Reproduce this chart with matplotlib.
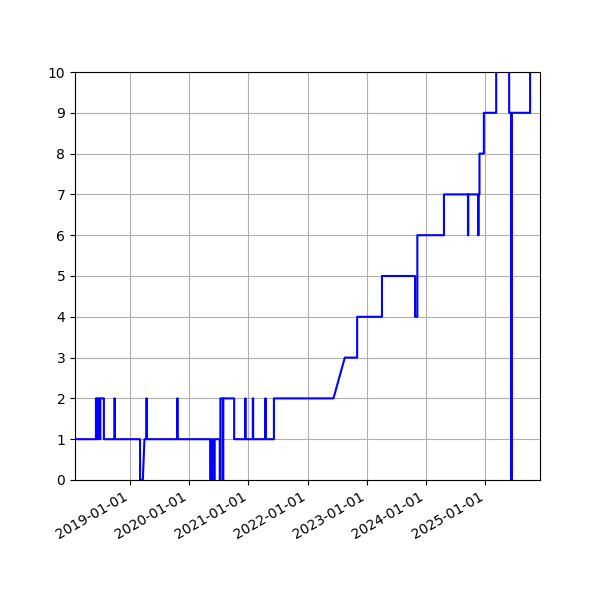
import matplotlib
matplotlib.use("Agg")
import matplotlib.pyplot as plt
import matplotlib.dates as mdates
import pandas as pd

dates = ["2018-01-28","2018-06-06","2018-06-06","2018-06-12","2018-06-12","2018-06-18","2018-06-18",
         "2018-06-26","2018-06-26","2018-07-03","2018-07-03","2018-07-25","2018-07-25",
         "2018-09-28","2018-09-28","2018-10-01","2018-10-01",
         "2019-03-05","2019-03-05","2019-03-22","2019-04-01",
         "2019-04-13","2019-04-13","2019-04-16","2019-04-16",
         "2019-10-20","2019-10-20","2019-10-22","2019-10-22",
         "2020-05-10","2020-05-10","2020-05-20","2020-05-20","2020-05-28","2020-05-28","2020-06-07","2020-06-07",
         "2020-07-08","2020-07-08","2020-07-12","2020-07-12","2020-07-27","2020-07-27","2020-07-30","2020-07-30",
         "2020-10-05","2020-10-05",
         "2020-12-12","2020-12-12","2020-12-14","2020-12-14",
         "2021-01-28","2021-01-28","2021-01-30","2021-01-30",
         "2021-04-15","2021-04-15","2021-04-17","2021-04-17",
         "2021-06-07","2021-06-07","2022-06-09","2022-08-18","2022-11-02","2022-11-02",
         "2023-04-04","2023-04-04","2023-10-25","2023-10-25","2023-11-08","2023-11-08",
         "2024-04-20","2024-04-20","2024-09-15","2024-09-15","2024-09-17","2024-09-17",
         "2024-11-16","2024-11-16","2024-11-20","2024-11-20","2024-11-25","2024-11-25",
         "2024-12-22","2024-12-22","2025-03-08","2025-03-08","2025-05-27","2025-05-27",
         "2025-06-09","2025-06-09","2025-06-11","2025-06-11","2025-10-03","2025-10-03","2025-12-03"]
values = [1,1,2,2,1,1,2,
          2,1,1,2,2,1,
          1,2,2,1,
          1,0,0,1,
          1,2,2,1,
          1,2,2,1,
          1,0,0,1,1,0,0,1,
          1,0,0,2,2,0,0,2,
          2,1,
          1,2,2,1,
          1,2,2,1,
          1,2,2,1,
          1,2,2,3,3,4,
          4,5,5,4,4,6,
          6,7,7,6,6,7,
          7,6,6,7,7,8,
          8,9,9,11,11,9,
          9,0,0,9,9,11,11]

x = pd.to_datetime(dates)
fig, ax = plt.subplots(figsize=(6, 6), dpi=100)
ax.plot(x, values, color="blue", linewidth=1.5)
ax.set_ylim(0, 10)
ax.set_yticks(range(0, 11))
ax.set_xlim(pd.Timestamp("2018-01-28"), pd.Timestamp("2025-12-03"))
ax.xaxis.set_major_locator(mdates.YearLocator())
ax.xaxis.set_major_formatter(mdates.DateFormatter("%Y-%m-%d"))
ax.grid(True)
fig.autofmt_xdate()
fig.savefig("out.png")
